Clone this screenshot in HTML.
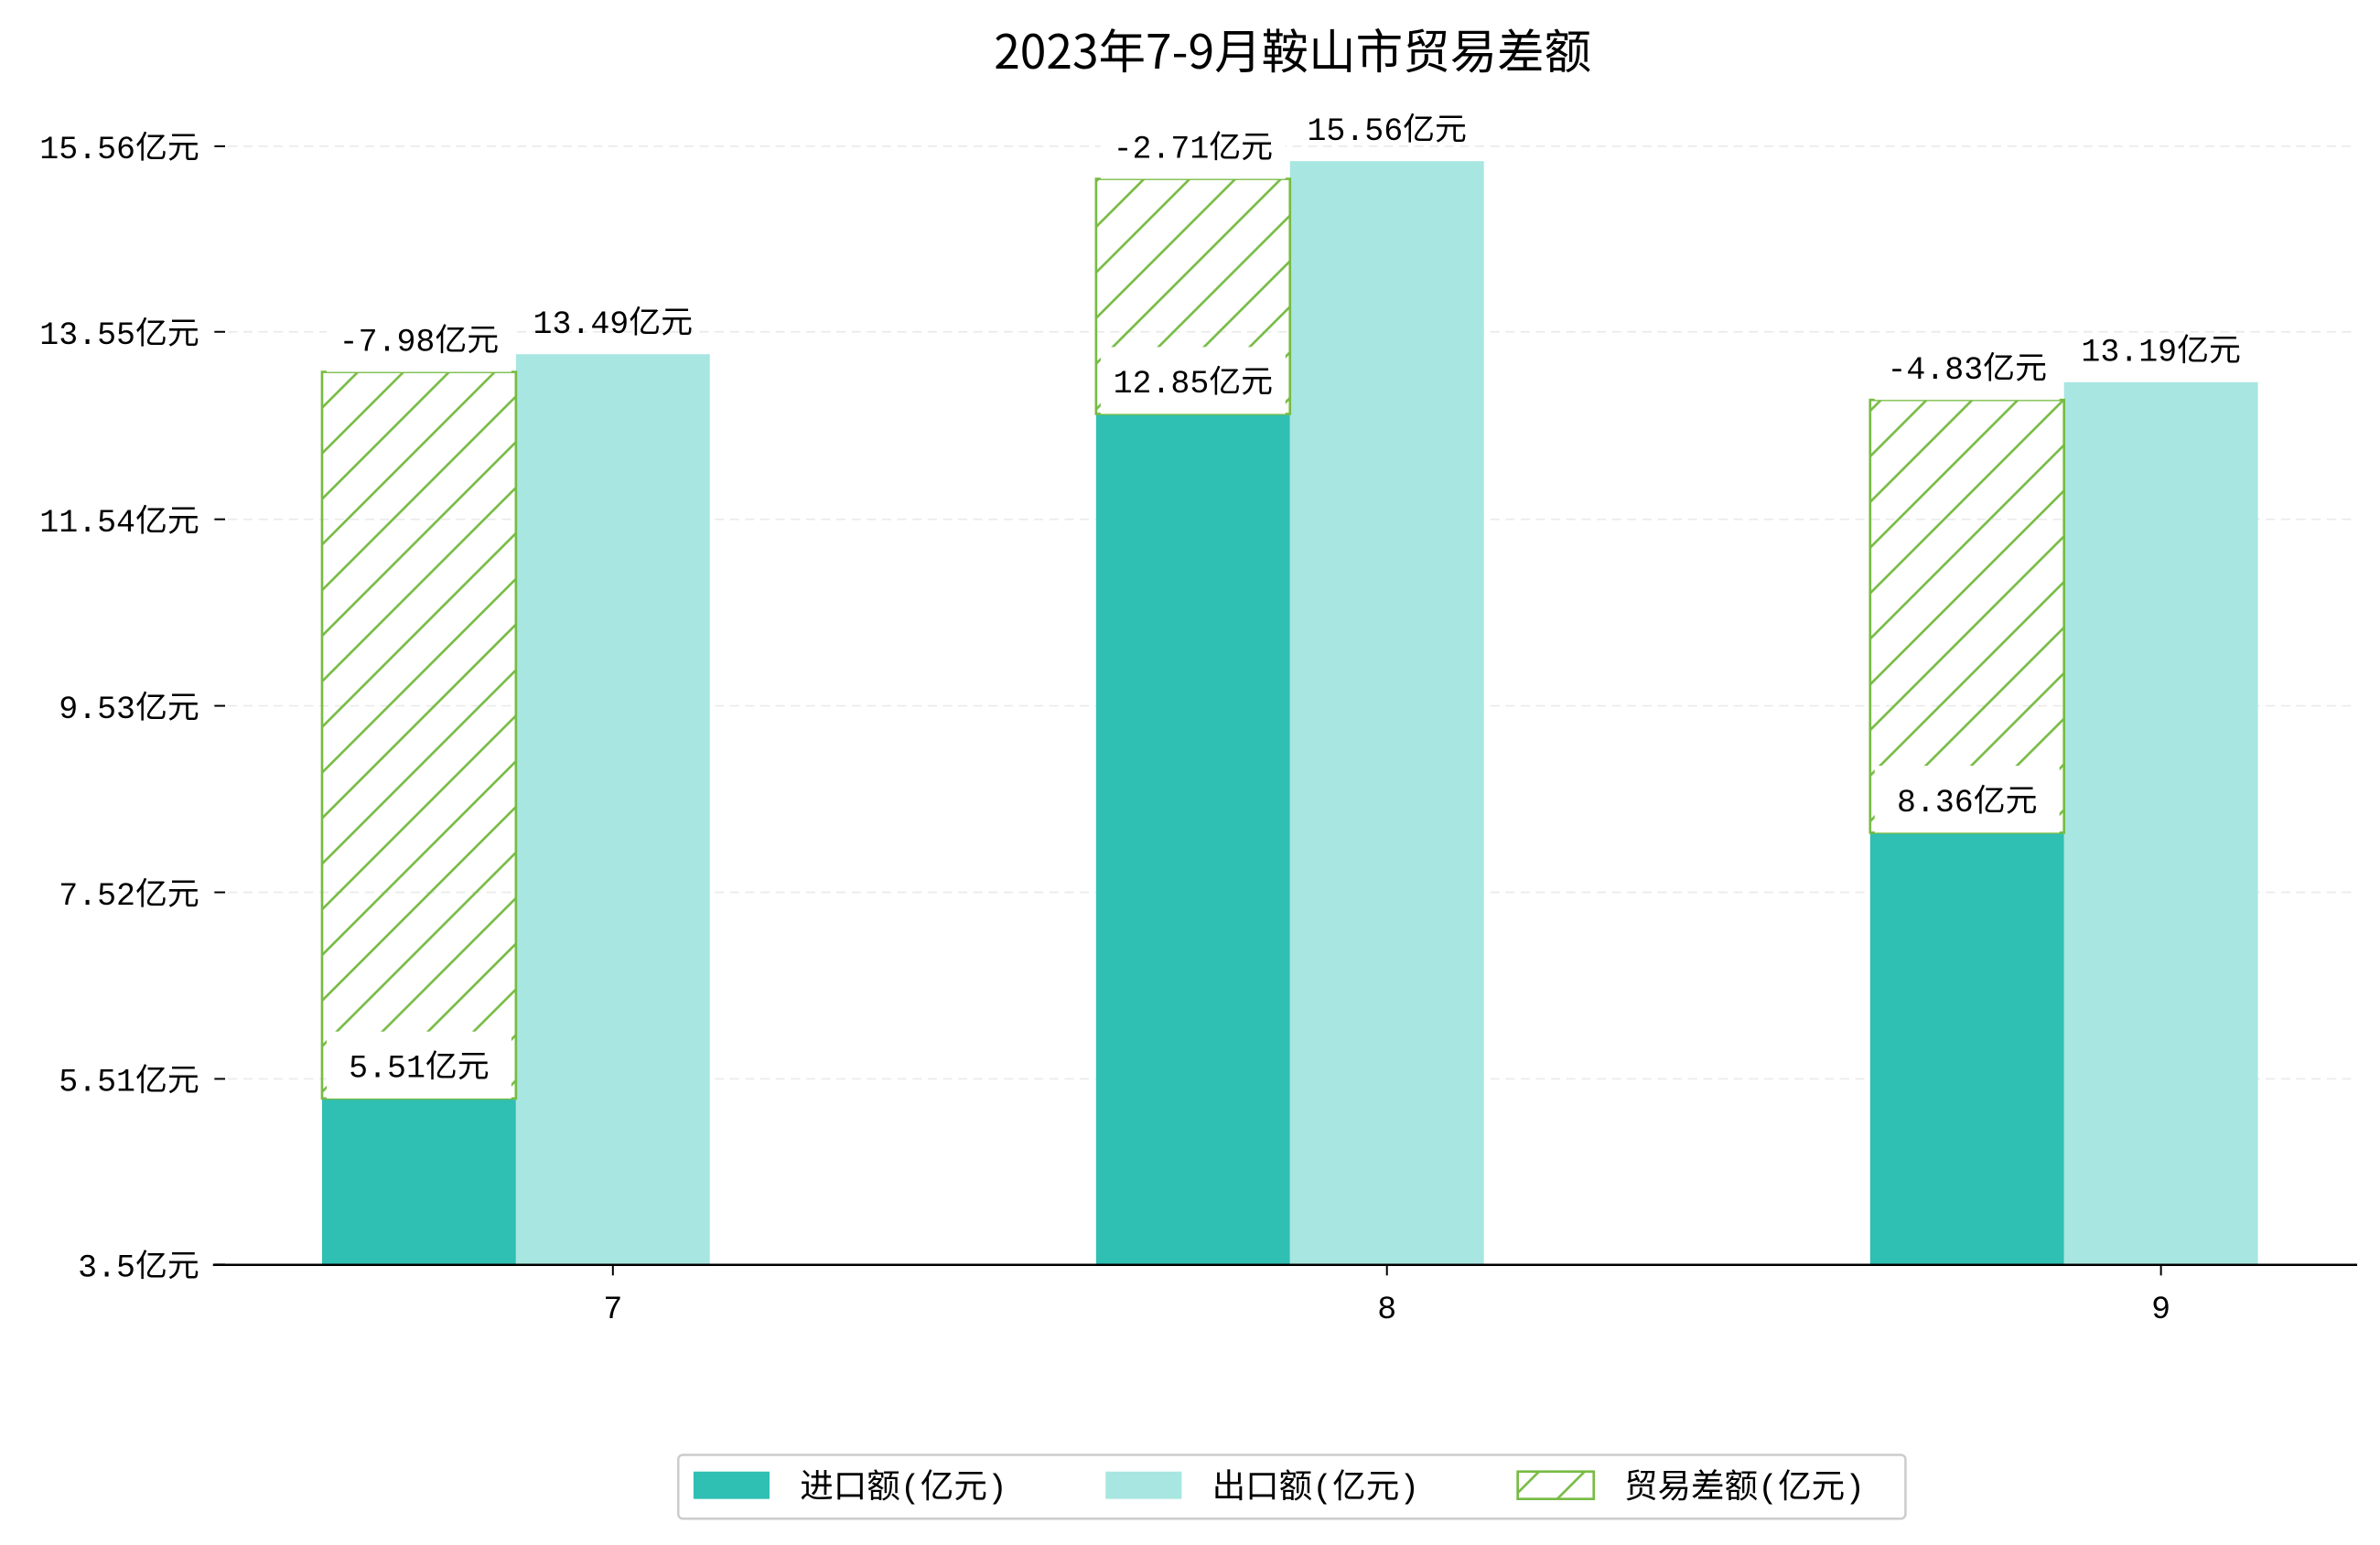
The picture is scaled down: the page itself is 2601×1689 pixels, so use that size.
<!DOCTYPE html>
<html><head><meta charset="utf-8"><style>
html,body{margin:0;padding:0;background:#fff;}
svg{display:block;font-family:"Liberation Mono","Noto Sans CJK SC",monospace;}
</style></head><body>
<svg id="chart" width="2601" height="1689" viewBox="0 0 1565 1016.3" xmlns="http://www.w3.org/2000/svg">
<defs>
<pattern id="hatch" patternUnits="userSpaceOnUse" width="30" height="30">
<line x1="0" y1="30" x2="30" y2="0" stroke="#77bb44" stroke-width="1.6"/>
<line x1="-5" y1="5" x2="5" y2="-5" stroke="#77bb44" stroke-width="1.6"/>
<line x1="25" y1="35" x2="35" y2="25" stroke="#77bb44" stroke-width="1.6"/>
</pattern>
</defs>
<text x="850" y="45" text-anchor="middle" font-size="31" fill="#000" style="font-family:'Noto Sans CJK SC','Liberation Sans',sans-serif">2023年7-9月鞍山市贸易差额</text>
<g id="grid"></g><g id="bars"></g><g id="labels"></g><g id="axes"></g>
<g>
<rect x="446" y="957" width="807" height="42" fill="#fff" stroke="#ccc" stroke-width="1.5" rx="3"/>
<rect x="456" y="968" width="50" height="18" fill="#2fbfb3"/>
<text x="526" y="985" font-size="22">进口额(亿元)</text>
<rect x="727" y="968" width="50" height="18" fill="#a8e6e1"/>
<text x="797" y="985" font-size="22">出口额(亿元)</text>
<rect x="998" y="968" width="50" height="18" fill="url(#hatch)" stroke="#77bb44" stroke-width="1.6"/>
<text x="1068" y="985" font-size="22">贸易差额(亿元)</text>
</g>
</svg>
<script>
const categories = ["7","8","9"];
const importVals = [5.51, 12.85, 8.36];
const exportVals = [13.49, 15.56, 13.19];
const balanceVals = [-7.98, -2.71, -4.83];
const tickValues = [3.73, 5.72, 7.72, 9.72, 11.72, 13.73, 15.72];
const tickLabels = ["3.5亿元","5.51亿元","7.52亿元","9.53亿元","11.54亿元","13.55亿元","15.56亿元"];

const NS = "http://www.w3.org/2000/svg";
const Y = v => 106 + (15.56 - v) * 61.35;
const X = i => 403 + i * 509;
const BW = 127.5;
const baseY = 832;
function mk(tag, attrs, parent, txt){
  const e = document.createElementNS(NS, tag);
  for (const k in attrs) e.setAttribute(k, attrs[k]);
  if (txt !== undefined) e.textContent = txt;
  parent.appendChild(e);
  return e;
}
const grid = document.getElementById('grid'), bars = document.getElementById('bars'),
      labels = document.getElementById('labels'), axes = document.getElementById('axes');
tickValues.forEach((t, i) => {
  const y = Y(t);
  const g = mk('line', {x1:140, x2:1550, y1:y, y2:y, stroke:'#eaeaea', 'stroke-dasharray':'6,4', 'stroke-width':1}, grid);
  
  
  const tk = mk('line', {x1:141, x2:148, y1:y, y2:y, stroke:'#000', 'stroke-width':1.2}, axes);
  
  
  const tl = mk('text', {x:131, y:y+8, 'text-anchor':'end', 'font-size':21}, axes, tickLabels[i]);
  
  
});
function labelBox(x, top, txt, name, bg){
  if (bg) {
    const r = mk('rect', {x:x - BW/2 + 3, y:top, width:BW - 6, height:44, fill:'#fff'}, labels);
    
    
  }
  const t = mk('text', {x:x, y:top + 30, 'text-anchor':'middle', 'font-size':21}, labels, txt);
  
  
}
categories.forEach((c, i) => {
  const cx = X(i);
  const ix = cx - 1.5 * BW, ex = cx - 0.5 * BW;
  const iy = Y(importVals[i]), ey = Y(exportVals[i]);
  const b1 = mk('rect', {x:ix, y:iy, width:BW, height:baseY - iy, fill:'#2fbfb3'}, bars);
  
  
  const b2 = mk('rect', {x:ex, y:ey, width:BW, height:baseY - ey, fill:'#a8e6e1'}, bars);
  
  
  const top = Y(importVals[i] + Math.abs(balanceVals[i]) - 0.19);
  const h = mk('rect', {x:ix, y:top, width:BW, height:iy - top, fill:'url(#hatch)', stroke:'#77bb44', 'stroke-width':1.6}, bars);
  
  
  labelBox(ix + BW/2, iy - 44, importVals[i].toFixed(2) + '亿元', 'import-value-label', true);
  labelBox(ix + BW/2, top - 44, balanceVals[i].toFixed(2) + '亿元', 'balance-value-label', true);
  const et = mk('text', {x:ex + BW/2, y:ey - 14, 'text-anchor':'middle', 'font-size':21}, labels, exportVals[i].toFixed(2) + '亿元');
  
  
  const xt = mk('line', {x1:cx, x2:cx, y1:baseY, y2:baseY + 7, stroke:'#000', 'stroke-width':1.2}, axes);
  
  
  const xl = mk('text', {x:cx, y:baseY + 35, 'text-anchor':'middle', 'font-size':21}, axes, c);
  
  
});
const sp = mk('line', {x1:140, x2:1550, y1:baseY, y2:baseY, stroke:'#000', 'stroke-width':1.5}, axes);


</script>
</body></html>
